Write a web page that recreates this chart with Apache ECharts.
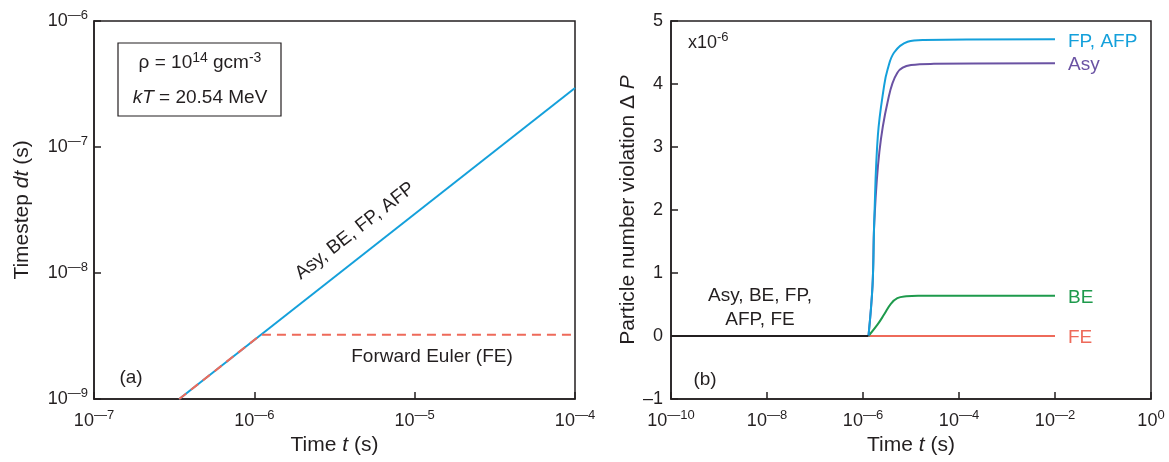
<!DOCTYPE html>
<html>
<head>
<meta charset="utf-8">
<script src="https://cdn.jsdelivr.net/npm/echarts@6/dist/echarts.min.js"></script>
<style>
html, body { margin: 0; padding: 0; background: #fff; }
#chart { width: 1169px; height: 462px; }
</style>
</head>
<body>
<div id="chart"></div>
<script>
// ---- panel (a): timestep vs time ----
var tImplicit = [3.4e-7, 1e-4];
var dtImplicit = [1e-9, 2.94e-7];
var tForward = [3.4e-7, 1.1e-6, 1e-4];
var dtForward = [1e-9, 3.24e-9, 3.24e-9];

// ---- panel (b): particle number violation (x1e-6) ----
var tZero = [1e-10, 1.3e-6];
var dpZero = [0, 0];
var tFE = [1.3e-6, 1e-2];
var dpFE = [0, 0];
var tBE = [1.3e-6, 2e-6, 2.75e-6, 3.8e-6, 5.2e-6, 8e-6, 1.4e-5, 1e-2];
var dpBE = [0, 0.18, 0.34, 0.51, 0.6, 0.63, 0.64, 0.64];
var tAsy = [1.3e-6, 1.58e-6, 1.72e-6, 2.19e-6, 3.25e-6, 5.2e-6, 1e-5, 3e-5, 1e-2];
var dpAsy = [0, 0.8, 1.8, 2.92, 3.71, 4.18, 4.30, 4.32, 4.33];
var tFP = [1.3e-6, 1.58e-6, 1.72e-6, 2.04e-6, 2.75e-6, 3.25e-6, 4.45e-6, 8.5e-6, 1.85e-5, 1e-2];
var dpFP = [0, 0.81, 1.86, 3.18, 3.97, 4.23, 4.50, 4.67, 4.70, 4.71];

var xTicksA = [1e-7, 1e-6, 1e-5, 1e-4];
var yTicksA = [1e-9, 1e-8, 1e-7, 1e-6];
var xTicksB = [1e-10, 1e-8, 1e-6, 1e-4, 1e-2, 1];

var INK = '#231f20';
var FONT = 'Liberation Sans, Arial, Helvetica, sans-serif';

function pairs(xs, ys) {
	var out = [];
	for (var i = 0; i < xs.length; i++) out.push([xs[i], ys[i]]);
	return out;
}
function powLabel(v) {
	var e = Math.round(Math.log10(v));
	return '{b|10}{s|' + (e < 0 ? '\u2014' + (-e) : e) + '}';
}
var powRich = {
	b: { fontSize: 18, lineHeight: 24, fontFamily: FONT, color: INK },
	s: { fontSize: 13, lineHeight: 13, verticalAlign: 'top', fontFamily: FONT, color: INK }
};
var nameRich = {
	n: { fontSize: 21, fontFamily: FONT, color: INK },
	i: { fontSize: 21, fontFamily: FONT, color: INK, fontStyle: 'italic' }
};
function logAxis(idx, min, max, ticks, name, gap, isY) {
	return {
		type: 'log', logBase: 10, gridIndex: idx, min: min, max: max,
		name: name, nameLocation: 'middle', nameGap: gap,
		nameTextStyle: { rich: nameRich },
		axisLine: { show: true, onZero: false, lineStyle: { color: INK, width: 1.5 } },
		axisTick: { show: true, inside: true, length: 7, lineStyle: { color: INK, width: 1.5 }, customValues: ticks },
		axisLabel: { margin: isY ? 6 : 10, formatter: powLabel, rich: powRich, customValues: ticks },
		minorTick: { show: false },
		splitLine: { show: false }
	};
}

var option = {
	animation: false,
	backgroundColor: '#fff',
	grid: [
		{ left: 94, top: 21, width: 481, height: 378, show: true, borderColor: INK, borderWidth: 1.5 },
		{ left: 671, top: 21, width: 480, height: 378, show: true, borderColor: INK, borderWidth: 1.5 }
	],
	xAxis: [
		logAxis(0, 1e-7, 1e-4, xTicksA, '{n|Time }{i|t}{n| (s)}', 34, false),
		logAxis(1, 1e-10, 1, xTicksB, '{n|Time }{i|t}{n| (s)}', 34, false)
	],
	yAxis: [
		logAxis(0, 1e-9, 1e-6, yTicksA, '{n|Timestep }{i|dt}{n| (s)}', 61, true),
		{
			type: 'value', gridIndex: 1, min: -1, max: 5, interval: 1,
			name: '{n|Particle number violation \u0394 }{i|P}', nameLocation: 'middle', nameGap: 32,
			nameTextStyle: { rich: nameRich },
			axisLine: { show: true, onZero: false, lineStyle: { color: INK, width: 1.5 } },
			axisTick: { show: true, inside: true, length: 7, lineStyle: { color: INK, width: 1.5 } },
			axisLabel: {
				margin: 8, fontSize: 18, fontFamily: FONT, color: INK,
				formatter: function (v) { return v < 0 ? '\u2013' + (-v) : String(v); }
			},
			splitLine: { show: false }
		}
	],
	series: [
		{ type: 'line', xAxisIndex: 0, yAxisIndex: 0, data: pairs(tImplicit, dtImplicit), showSymbol: false,
			lineStyle: { color: '#14a0db', width: 2 } },
		{ type: 'line', xAxisIndex: 0, yAxisIndex: 0, data: pairs(tForward, dtForward), showSymbol: false,
			lineStyle: { color: '#ee6a5a', width: 2, type: [9, 6] } },
		{ type: 'line', xAxisIndex: 1, yAxisIndex: 1, data: pairs(tFE, dpFE), showSymbol: false,
			lineStyle: { color: '#ee6a5a', width: 2 } },
		{ type: 'line', xAxisIndex: 1, yAxisIndex: 1, data: pairs(tBE, dpBE), showSymbol: false, smooth: 0.4,
			lineStyle: { color: '#1e9a4c', width: 2 } },
		{ type: 'line', xAxisIndex: 1, yAxisIndex: 1, data: pairs(tAsy, dpAsy), showSymbol: false, smooth: 0.4,
			lineStyle: { color: '#6a52a3', width: 2 } },
		{ type: 'line', xAxisIndex: 1, yAxisIndex: 1, data: pairs(tFP, dpFP), showSymbol: false, smooth: 0.4,
			lineStyle: { color: '#14a0db', width: 2 } },
		{ type: 'line', xAxisIndex: 1, yAxisIndex: 1, data: pairs(tZero, dpZero), showSymbol: false,
			lineStyle: { color: INK, width: 2 } }
	],
	graphic: [
		{ type: 'rect', shape: { x: 118, y: 43, width: 163, height: 73 },
			style: { fill: 'none', stroke: INK, lineWidth: 1.2 } },
		{ type: 'text', x: 200, y: 63, style: {
			text: '{n|\u03c1 = 10}{s|14}{n| gcm}{s|-3}', textAlign: 'center', textVerticalAlign: 'middle',
			rich: {
				n: { fontSize: 19, lineHeight: 24, fontFamily: FONT, fill: INK },
				s: { fontSize: 14, lineHeight: 14, verticalAlign: 'top', fontFamily: FONT, fill: INK }
			} } },
		{ type: 'text', x: 200, y: 98, style: {
			text: '{i|kT}{n| = 20.54 MeV}', textAlign: 'center', textVerticalAlign: 'middle',
			rich: {
				n: { fontSize: 19, fontFamily: FONT, fill: INK },
				i: { fontSize: 19, fontFamily: FONT, fill: INK, fontStyle: 'italic' }
			} } },
		{ type: 'text', x: 355, y: 231, rotation: 38 * Math.PI / 180, style: {
			text: 'Asy, BE, FP, AFP', textAlign: 'center', textVerticalAlign: 'middle',
			fontSize: 19, fontFamily: FONT, fill: INK } },
		{ type: 'text', x: 432, y: 357, style: {
			text: 'Forward Euler (FE)', textAlign: 'center', textVerticalAlign: 'middle',
			fontSize: 19, fontFamily: FONT, fill: INK } },
		{ type: 'text', x: 131, y: 378, style: {
			text: '(a)', textAlign: 'center', textVerticalAlign: 'middle',
			fontSize: 19, fontFamily: FONT, fill: INK } },
		{ type: 'text', x: 705, y: 380, style: {
			text: '(b)', textAlign: 'center', textVerticalAlign: 'middle',
			fontSize: 19, fontFamily: FONT, fill: INK } },
		{ type: 'text', x: 688, y: 43, style: {
			text: '{n|x10}{s|-6}', textAlign: 'left', textVerticalAlign: 'middle',
			rich: {
				n: { fontSize: 18, lineHeight: 24, fontFamily: FONT, fill: INK },
				s: { fontSize: 13, lineHeight: 13, verticalAlign: 'top', fontFamily: FONT, fill: INK }
			} } },
		{ type: 'text', x: 760, y: 296, style: {
			text: 'Asy, BE, FP,', textAlign: 'center', textVerticalAlign: 'middle',
			fontSize: 19, fontFamily: FONT, fill: INK } },
		{ type: 'text', x: 760, y: 320, style: {
			text: 'AFP, FE', textAlign: 'center', textVerticalAlign: 'middle',
			fontSize: 19, fontFamily: FONT, fill: INK } },
		{ type: 'text', x: 1068, y: 42, style: {
			text: 'FP, AFP', textAlign: 'left', textVerticalAlign: 'middle',
			fontSize: 19, fontFamily: FONT, fill: '#14a0db' } },
		{ type: 'text', x: 1068, y: 65, style: {
			text: 'Asy', textAlign: 'left', textVerticalAlign: 'middle',
			fontSize: 19, fontFamily: FONT, fill: '#6a52a3' } },
		{ type: 'text', x: 1068, y: 298, style: {
			text: 'BE', textAlign: 'left', textVerticalAlign: 'middle',
			fontSize: 19, fontFamily: FONT, fill: '#1e9a4c' } },
		{ type: 'text', x: 1068, y: 338, style: {
			text: 'FE', textAlign: 'left', textVerticalAlign: 'middle',
			fontSize: 19, fontFamily: FONT, fill: '#ee6a5a' } }
	]
};

var myChart = echarts.init(document.getElementById('chart'));
myChart.setOption(option);
</script>
</body>
</html>
